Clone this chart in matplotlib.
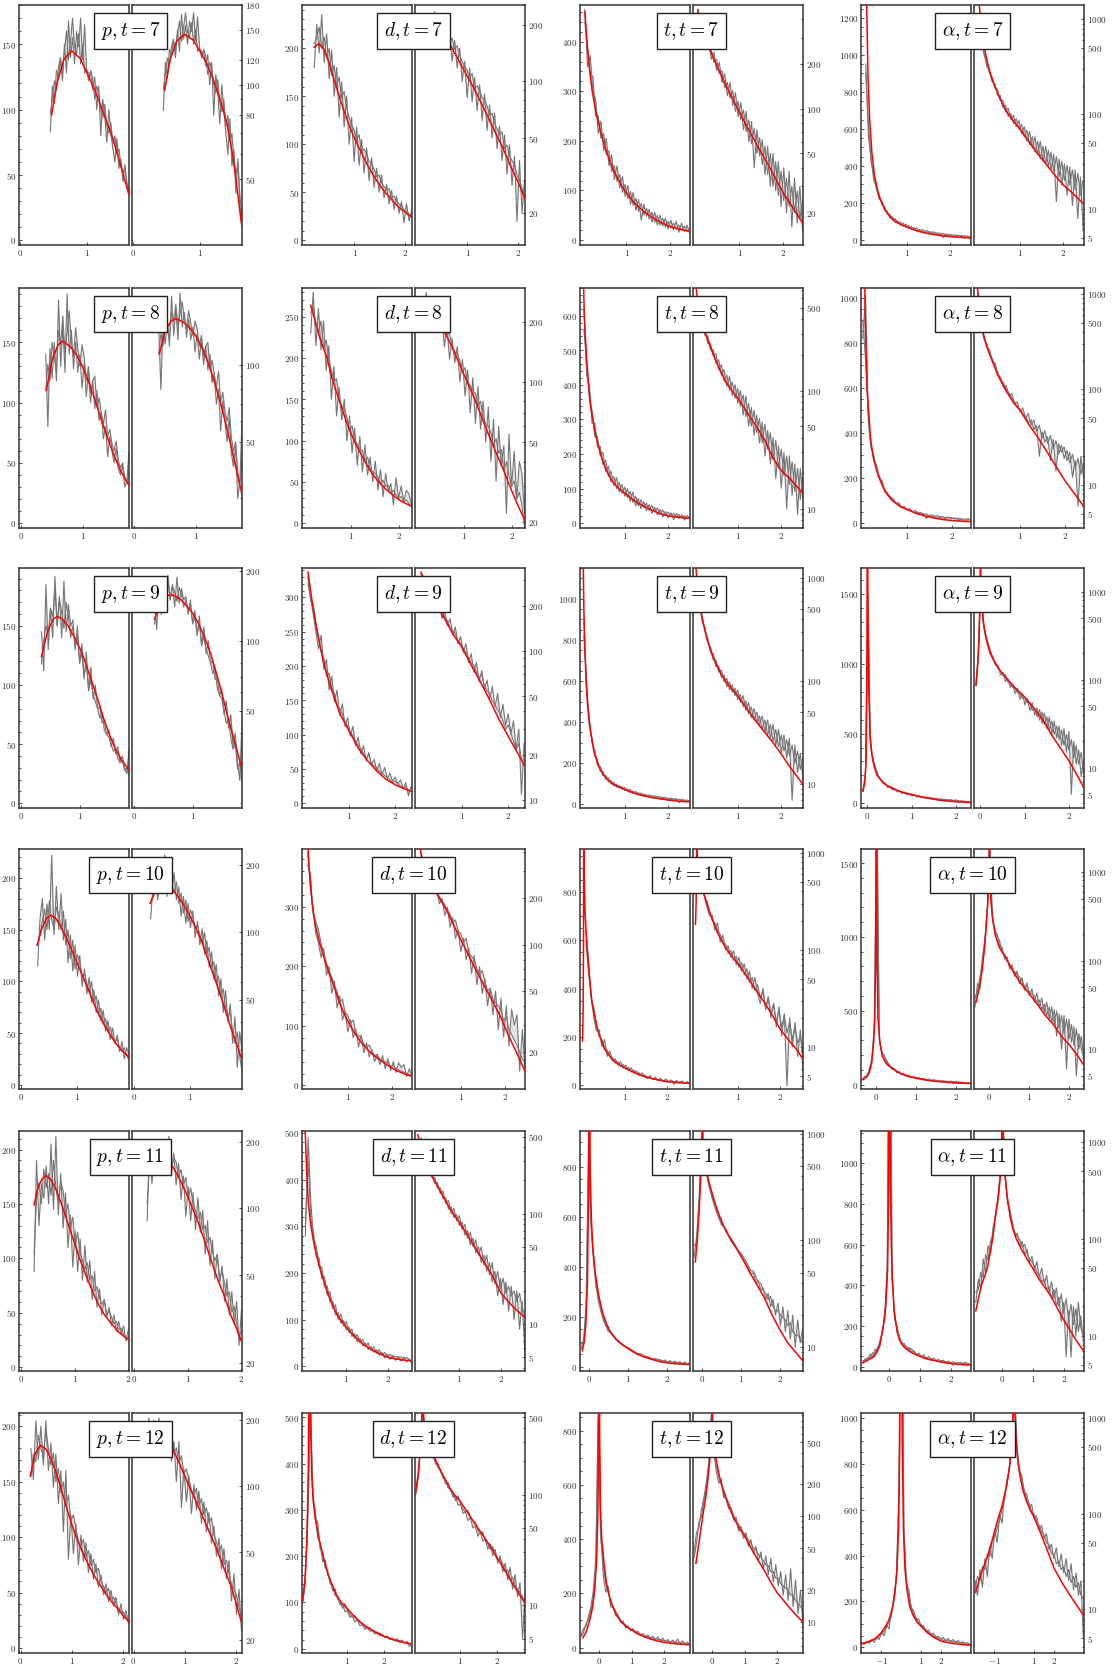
import numpy as np
import matplotlib
matplotlib.use("Agg")
import matplotlib.pyplot as plt
from matplotlib.ticker import AutoMinorLocator, FixedLocator, FixedFormatter, LogLocator, NullFormatter

plt.rcParams['mathtext.fontset'] = 'cm'
plt.rcParams['font.family'] = 'DejaVu Serif'

# ---------------- data: two noisy series (a, b), their x-span, and the fitted curve ----------------
# column p
p7_span = (0.45, 1.63)
p7_a = [83,118,105,130,125,138,122,150,128,168, 140,155,135,160,148,170,138,165,130,128, 127,115,125,100,118,80,108,95,75,100, 82,70,60,78,55,62,45,58,40,35]
p7_b = [97,108,122,115,132,140,128,145,160,138, 152,170,148,142,158,135,150,128,131,122, 130,124,108,118,112,100,94,104,88,82, 90,74,80,66,70,58,52,56,44,38]
p7_fx = [0.47,0.55,0.65,0.77,0.9,1.0,1.1,1.2,1.3,1.4,1.5,1.63]
p7_fy = [96,120,138,145,139,128,117,104,90,76,58,35]

p8_span = (0.4, 1.74)
p8_a = [140,80,145,120,150,118,185,130,165,125, 190,140,160,128,150,125,140,112,132,105, 125,100,118,95,110,85,92,70,80,55, 72,60,50,62,45,40,48,30,35,60]
p8_b = [110,132,118,150,138,126,160,148,172,140, 158,176,150,138,162,145,130,148,138,118, 130,108,118,122,96,104,92,82,94,72, 78,66,60,68,52,46,50,38,34,42]
p8_fx = [0.41,0.5,0.6,0.68,0.8,0.9,1.0,1.1,1.2,1.3,1.4,1.5,1.6,1.74]
p8_fy = [110,135,148,151,146,139,129,116,101,85,70,56,44,31]

p9_span = (0.35, 1.83)
p9_a = [145,112,185,130,165,140,192,150,175,140, 188,145,168,150,155,130,150,118,135,105, 128,95,115,88,100,80,82,68,70,58, 62,48,55,42,48,35,40,30,25,45]
p9_b = [118,138,150,142,165,158,180,150,172,162, 148,170,158,140,150,132,142,120,126,108, 118,96,104,92,86,80,72,76,62,58, 56,50,44,46,38,34,36,28,30,24]
p9_fx = [0.35,0.45,0.55,0.62,0.7,0.8,0.9,1.0,1.1,1.2,1.3,1.4,1.5,1.6,1.7,1.83]
p9_fy = [124,145,156,158,156,150,141,131,118,103,88,72,58,46,37,28]

p10_span = (0.3, 1.92)
p10_a = [115,160,180,140,175,150,222,145,192,150, 185,140,160,118,145,110,135,105,125,95, 112,88,104,80,92,70,82,62,72,52, 62,44,55,40,48,32,42,25,36,30]
p10_b = [135,145,158,170,150,178,160,150,172,165, 150,168,135,150,122,140,112,126,118,104, 108,98,90,100,80,86,70,74,60,64, 52,56,46,42,44,36,32,36,28,24]
p10_fx = [0.29,0.38,0.46,0.54,0.62,0.7,0.8,0.9,1.0,1.1,1.2,1.3,1.4,1.5,1.6,1.7,1.8,1.92]
p10_fy = [135,152,161,164,161,154,143,131,118,105,92,78,66,56,47,39,33,27]

p11_span = (0.25, 2.0)
p11_a = [88,190,130,168,155,185,150,205,145,212, 140,178,128,160,110,140,92,125,88,118, 80,112,78,98,62,88,55,72,48,62, 46,55,38,48,33,42,30,38,24,35]
p11_b = [105,155,170,150,182,165,178,158,190,165, 150,170,162,140,150,128,138,112,124,105, 98,90,96,80,84,70,74,64,58,62, 48,52,46,40,42,34,36,30,26,28]
p11_fx = [0.25,0.32,0.4,0.47,0.55,0.65,0.75,0.85,1.0,1.1,1.2,1.33,1.45,1.57,1.67,1.8,1.9,2.0]
p11_fy = [149,165,173,176,173,164,151,136,114,99,86,70,57,47,41,33,29,25]

p12_span = (0.2, 2.1)
p12_a = [180,152,205,170,200,165,205,160,185,145, 175,130,160,105,160,80,120,85,112,75, 102,78,95,68,85,62,76,55,66,48, 58,42,52,38,46,30,40,26,34,22]
p12_b = [155,175,168,192,180,172,198,180,165,176, 150,162,140,150,128,138,115,120,108,96, 92,98,82,88,74,80,68,72,60,56, 50,54,44,46,40,36,34,32,28,26]
p12_fx = [0.19,0.28,0.39,0.5,0.6,0.7,0.8,0.9,1.0,1.1,1.2,1.3,1.4,1.5,1.6,1.7,1.8,1.9,2.0,2.1]
p12_fy = [155,175,183,179,170,157,142,126,111,98,87,77,68,60,53,46,40,35,29,24]

# column d
d7_span = (0.21, 2.12)
d7_a = [180,225,195,235,185,215,168,198,150,180, 128,165,118,150,100,128,82,118,78,105, 70,96,62,86,55,75,50,68,44,58, 38,52,32,46,28,40,18,38,20,30]
d7_b = [205,210,222,200,212,190,200,172,182,160, 170,148,155,138,128,120,115,104,110,92, 95,90,82,80,74,66,68,60,56,52, 54,44,46,40,38,36,32,30,27,24]
d7_fx = [0.21,0.3,0.4,0.5,0.6,0.7,0.8,0.9,1.0,1.1,1.2,1.3,1.4,1.5,1.6,1.7,1.8,1.9,2.0,2.12]
d7_fy = [201,205,199,185,167,150,134,119,106,95,84,74,65,57,50,44,38,33,29,24]

d8_span = (0.16, 2.25)
d8_a = [230,280,215,260,210,245,185,215,150,190, 130,165,125,150,100,130,85,115,70,105, 62,95,58,80,50,75,40,65,32,60, 38,48,22,55,30,45,26,40,35,22]
d8_b = [255,262,240,232,245,212,222,198,185,172, 175,150,142,138,128,112,118,100,96,90, 88,76,80,66,62,60,56,48,52,44, 46,36,40,34,30,32,26,28,24,19]
d8_fx = [0.16,0.25,0.35,0.5,0.6,0.7,0.8,0.9,1.0,1.1,1.2,1.3,1.4,1.5,1.6,1.7,1.8,1.9,2.0,2.1,2.25]
d8_fy = [264,246,224,200,176,158,140,123,108,95,84,73,63,55,48,42,37,32,28,24.5,20.5]

d9_span = (0.1, 2.35)
d9_a = [320,300,275,250,225,245,195,210,165,185, 148,165,128,145,112,125,98,112,84,96, 72,84,62,74,56,64,48,58,42,52, 36,44,32,38,28,34,22,30,11,24]
d9_b = [330,295,290,262,244,220,212,185,190,168, 160,142,138,130,118,112,104,98,90,84, 80,72,66,70,58,54,52,46,44,40, 38,34,30,32,28,25,22,24,19,17]
d9_fx = [0.1,0.2,0.3,0.44,0.6,0.8,1.0,1.2,1.4,1.6,1.8,2.0,2.2,2.35]
d9_fy = [337,290,250,205,168,130,105,80,62,47,35,27,21,17.3]

d10_span = (0.08, 2.46)
d10_a = [390,330,300,255,240,215,230,185,200,155, 175,130,150,110,125,90,110,80,95,65, 85,55,72,48,60,40,52,35,50,28, 45,25,40,22,38,30,35,15,28,16]
d10_b = [370,355,288,275,262,238,222,205,192,182, 168,158,140,145,122,118,104,110,88,84, 80,70,64,68,58,50,52,44,42,40, 38,32,34,28,26,24,22,20,18,17]
d10_fx = [0.07,0.12,0.18,0.25,0.35,0.45,0.55,0.67,0.8,0.9,1.0,1.15,1.3,1.5,1.7,1.9,2.1,2.3,2.46]
d10_fy = [420,360,306,270,240,215,192,168,140,122,107,88,72,56,44,34,25,19,15]

d11_span = (0.03, 2.57)
d11_a = [280,490,350,272,258,215,212,170,172,138, 140,110,115,92,98,78,84,64,70,52, 60,44,50,36,42,30,36,24,30,18, 26,15,24,13,22,11,20,9,16,5]
d11_b = [300,440,315,285,236,232,188,192,152,160, 124,132,100,112,86,96,72,80,60,68, 50,58,42,50,34,42,28,36,23,30, 21,26,19,22,18,20,16,19,14,12]
d11_fx = [0.02,0.06,0.1,0.16,0.25,0.35,0.45,0.55,0.68,0.8,1.0,1.2,1.4,1.6,1.8,2.0,2.2,2.4,2.57]
d11_fy = [520,420,350,302,255,218,188,160,130,108,84,64,48,36,27,19,15.5,13,11.5]

d12_span = (-0.18, 2.75)
d12_a = [100,140,300,560,350,280,275,215,210,175, 170,140,138,115,112,95,98,80,82,68, 70,58,62,50,52,42,46,38,40,32, 36,28,32,24,28,20,24,17,22,14, 19,12,16,5,12]
d12_b = [110,150,270,520,330,300,240,230,188,192, 160,152,125,130,108,104,88,98,84,74, 70,72,62,58,56,48,44,46,38,36, 32,34,28,26,26,24,20,21,17,18, 15,14,13,12,10]
d12_fx = [-0.18,-0.12,-0.07,-0.03,0.0,0.03,0.06,0.1,0.16,0.25,0.35,0.5,0.7,0.85,1.0,1.2,1.4,1.6,1.8,2.0,2.2,2.4,2.6,2.75]
d12_fy = [105,150,230,380,800,500,380,320,280,239,205,160,120,100,88,70,55,44,35,27,21,16,12.5,10.5]

# column t
t7_span = (0.05, 2.44)
t7_a = [465,350,372,300,285,215,240,180,205,150, 172,122,150,105,128,88,110,72,96,60, 82,40,72,48,62,36,56,30,50,28, 44,22,40,20,38,16,34,17,30,15]
t7_b = [440,385,335,330,250,250,205,215,172,180, 138,150,118,132,96,112,84,98,70,84, 58,74,50,64,42,56,36,50,30,44, 26,38,24,34,22,30,20,28,18,24]
t7_fx = [0.05,0.1,0.15,0.21,0.3,0.4,0.5,0.6,0.7,0.8,0.9,1.0,1.2,1.4,1.6,1.8,2.0,2.2,2.44]
t7_fy = [460,400,350,305,260,222,190,164,142,124,108,95,73,57,45,35,27,22,17]

t8_span = (0.04, 2.5)
t8_a = [620,430,395,290,290,220,222,170,182,135, 150,108,132,90,112,78,100,62,90,50, 72,42,62,36,54,28,46,24,40,18, 34,15,30,10,28,13,24,9,22,12]
t8_b = [560,470,360,325,250,250,195,205,150,165, 120,135,100,118,86,104,74,92,60,78, 50,68,44,58,36,52,32,44,26,38, 22,32,19,28,16,25,14,22,12,19]
t8_fx = [0.02,0.05,0.1,0.15,0.2,0.27,0.35,0.45,0.55,0.7,0.85,1.0,1.2,1.4,1.6,1.8,2.0,2.2,2.5]
t8_fy = [750,600,480,398,335,283,235,190,155,120,100,85,66,51,39,27,21,18,13.5]

t9_span = (0.05, 2.52)
t9_a = [900,560,420,300,262,190,185,138,140,108, 115,88,98,78,85,66,74,56,64,48, 56,42,50,38,46,32,42,28,38,24, 34,20,30,18,28,7,24,13,20,11]
t9_b = [820,600,380,325,235,215,160,160,122,128, 98,106,82,92,72,82,62,72,52,62, 44,54,40,46,34,42,30,38,26,34, 23,30,21,27,19,24,16,21,14,18]
t9_fx = [0.03,0.05,0.07,0.1,0.14,0.2,0.28,0.39,0.5,0.6,0.73,0.85,1.0,1.2,1.4,1.6,1.8,2.0,2.2,2.52]
t9_fy = [1250,950,780,605,470,360,260,186,145,120,98,85,72,55,42,33,26,20,15,10]

t10_span = (0.05, 2.56)
t10_a = [600,470,370,280,225,230,160,190,120,142, 100,110,84,98,70,84,60,72,50,60, 40,52,36,28,40,24,32,20,28,16, 26,13,22,4,20,10,18,8,15,6]
t10_b = [640,520,360,320,255,200,190,158,145,120, 115,92,98,78,86,66,74,55,64,46, 52,38,44,32,38,26,33,22,28,18, 24,16,21,14,18,12,16,11,13,9]
t10_fx = [-0.03,-0.015,-0.005,0.0,0.01,0.03,0.07,0.12,0.2,0.33,0.5,0.68,0.85,1.0,1.2,1.4,1.6,1.8,2.0,2.2,2.4,2.56]
t10_fy = [183,300,600,1500,900,720,600,480,340,231,150,108,85,72,54,40,30,22,15.5,12,9.5,7.5]

t11_span = (-0.2, 2.58)
t11_a = [70,110,250,900,580,420,330,260,220,185, 165,140,135,120,110,98,92,85,78,70, 66,60,56,48,50,40,42,34,36,28, 32,24,28,20,26,16,24,14,22,12, 20,10,18,11,15]
t11_b = [90,96,205,820,560,450,320,280,230,200, 160,162,132,126,112,104,96,88,80,76, 70,64,58,52,52,46,40,40,34,32, 28,30,24,22,22,20,19,18,16,17, 14,13,13,12,11]
t11_fx = [-0.17,-0.12,-0.08,-0.04,-0.01,0.01,0.03,0.06,0.1,0.16,0.25,0.35,0.5,0.7,0.85,1.0,1.2,1.4,1.6,1.8,2.0,2.2,2.4,2.58]
t11_fy = [63,100,170,330,700,1500,800,600,470,376,285,215,150,108,88,72,52,39,29,20,14.5,11,9,7.5]

t12_span = (-0.56, 2.8)
t12_a = [45,70,78,115,150,210,330,900,430,265, 205,225,150,148,118,120,92,98,72,80, 62,70,52,60,44,52,38,46,32,42, 28,40,24,35,22,30,18,28,16,32, 14,25,12,20,9]
t12_b = [40,55,88,100,140,180,300,850,400,300, 240,200,178,150,135,118,102,90,84,76, 70,64,60,56,50,48,44,41,38,35, 34,30,30,26,26,23,22,21,20,18, 18,16,15,14,13]
t12_fx = [-0.5,-0.4,-0.29,-0.2,-0.135,-0.08,-0.04,-0.015,0.0,0.015,0.04,0.08,0.16,0.23,0.35,0.54,0.7,0.85,1.0,1.2,1.4,1.6,1.8,2.0,2.2,2.4,2.6,2.8]
t12_fy = [36,58,100,150,217,320,480,800,1300,800,520,400,300,235,170,118,92,76,65,50,39,31,24,19,16,13.5,11.5,10]

# column alpha
al7_span = (0.05, 2.46)
al7_a = [950,560,440,320,285,220,210,160,158,118, 125,95,102,80,90,70,78,58,68,48, 58,40,52,34,46,30,42,26,38,12, 34,18,30,14,28,11,26,8,22,6]
al7_b = [900,620,420,360,270,248,190,182,140,140, 108,116,88,98,74,86,62,74,52,66, 44,58,38,52,32,46,28,40,25,36, 22,32,20,29,18,26,16,24,14,20]
al7_fx = [0.0,0.02,0.04,0.07,0.1,0.14,0.19,0.25,0.35,0.5,0.68,0.85,1.0,1.2,1.4,1.6,1.8,2.0,2.2,2.46]
al7_fy = [2500,2000,1600,1300,900,650,474,350,240,160,108,85,70,52,39,30,23,18,15,11.5]

al8_span = (0.005, 2.41)
al8_a = [820,1010,450,330,300,235,210,170,150,125, 118,100,92,82,75,65,62,55,52,45, 48,38,42,20,36,28,32,18,30,14, 27,22,25,18,22,12,18,6,20,12]
al8_b = [900,720,480,350,276,258,196,188,140,134, 106,110,86,90,70,74,58,64,50,56, 42,48,36,42,31,37,27,33,24,29, 21,26,19,23,17,21,15,19,13,17]
al8_fx = [0.0,0.02,0.04,0.06,0.1,0.18,0.25,0.35,0.5,0.66,0.85,1.0,1.2,1.4,1.6,1.8,2.0,2.2,2.41]
al8_fy = [2000,1500,1200,900,600,370,280,210,140,100,72,60,42,31,22,15.5,11,8.2,6]

al9_span = (-0.1, 2.33)
al9_a = [90,220,1500,420,330,250,215,170,160,135, 125,112,115,95,92,82,80,72,70,62, 60,55,56,45,48,38,46,32,42,28, 38,24,34,22,30,18,28,15,26,5, 20,11,16,8,12]
al9_b = [85,200,1400,450,300,265,198,182,146,146, 114,122,96,104,82,90,70,80,60,70, 52,62,45,55,40,48,35,43,31,38, 27,34,24,30,21,27,18,24,16,21, 13,18,11,15,9]
al9_fx = [-0.1,-0.06,-0.03,-0.01,0.0,0.01,0.03,0.06,0.1,0.16,0.22,0.35,0.5,0.7,0.85,1.0,1.2,1.4,1.6,1.8,2.0,2.2,2.33]
al9_fy = [88,150,300,900,3000,1500,800,493,350,255,200,150,118,90,75,64,48,36,24,17,12,8,6]

al10_span = (-0.36, 2.36)
al10_a = [30,55,48,110,160,420,2000,300,230,185, 165,125,118,100,92,80,75,70,65,58, 52,50,45,42,40,34,36,28,32,24, 30,20,28,14,25,10,24,6,22,12, 18,5,15,10,8]
al10_b = [38,45,65,95,180,380,1800,320,212,198, 145,140,104,110,80,90,66,76,55,64, 46,56,40,48,34,43,30,38,26,34, 22,30,19,27,17,24,15,22,13,19, 11,17,10,14,8]
al10_fx = [-0.33,-0.25,-0.18,-0.12,-0.07,-0.04,-0.02,-0.005,0.0,0.005,0.02,0.04,0.09,0.15,0.25,0.4,0.56,0.75,1.0,1.2,1.4,1.6,1.8,2.0,2.2,2.36]
al10_fy = [34,50,78,140,276,450,800,1600,3000,1600,800,450,276,190,140,108,80,58,42,32,24,19,14,11.2,8.5,6.6]

al11_span = (-0.87, 2.64)
al11_a = [22,38,30,62,45,85,70,130,160,260, 500,2400,450,230,200,135,118,105,98,82, 88,70,62,58,52,45,42,36,38,30, 32,24,30,20,25,14,22,6,18,6, 20,10,22,12,10]
al11_b = [28,30,45,40,68,60,95,110,180,230, 450,2200,420,260,180,150,108,114,84,94, 68,78,57,66,48,58,40,50,34,42, 28,36,24,31,20,27,17,24,15,21, 13,19,11,16,9]
al11_fx = [-0.87,-0.7,-0.49,-0.32,-0.2,-0.12,-0.06,-0.03,-0.01,0.0,0.01,0.03,0.06,0.09,0.15,0.25,0.33,0.45,0.6,0.8,1.0,1.2,1.4,1.6,1.8,2.0,2.2,2.4,2.64]
al11_fy = [18,32,50,100,200,300,480,800,1500,3000,1500,900,600,450,280,170,130,100,80,62,49,38,31,25,19,14.5,11.5,9,7]

al12_span = (-1.95, 3.47)
al12_a = [20,14,26,17,34,22,45,34,68,50, 96,80,165,200,320,650,2200,520,280,250, 170,160,118,125,90,95,68,76,55,62, 42,48,34,44,28,38,24,34,20,30, 16,24,14,20,5]
al12_b = [16,22,20,28,26,38,36,52,58,72, 86,112,140,230,300,700,2000,480,300,215, 178,140,128,104,100,84,76,64,60,50, 48,38,38,30,32,26,28,22,26,19, 22,17,19,14,13]
al12_fx = [-1.93,-1.6,-1.3,-1.0,-0.8,-0.6,-0.43,-0.3,-0.2,-0.12,-0.06,-0.02,0.0,0.02,0.06,0.12,0.2,0.3,0.43,0.6,0.8,1.0,1.3,1.6,2.0,2.4,2.8,3.2,3.47]
al12_fy = [15,25,37,62,88,120,170,240,340,520,900,1800,3000,1800,900,520,340,250,180,140,110,92,65,45,27,19,14,10.5,8.7]

# ---------------- panels: (symbol, t, data) ----------------
columns = [
    (r'p', [(7, p7_span, p7_a, p7_b, p7_fx, p7_fy), (8, p8_span, p8_a, p8_b, p8_fx, p8_fy),
            (9, p9_span, p9_a, p9_b, p9_fx, p9_fy), (10, p10_span, p10_a, p10_b, p10_fx, p10_fy),
            (11, p11_span, p11_a, p11_b, p11_fx, p11_fy), (12, p12_span, p12_a, p12_b, p12_fx, p12_fy)]),
    (r'd', [(7, d7_span, d7_a, d7_b, d7_fx, d7_fy), (8, d8_span, d8_a, d8_b, d8_fx, d8_fy),
            (9, d9_span, d9_a, d9_b, d9_fx, d9_fy), (10, d10_span, d10_a, d10_b, d10_fx, d10_fy),
            (11, d11_span, d11_a, d11_b, d11_fx, d11_fy), (12, d12_span, d12_a, d12_b, d12_fx, d12_fy)]),
    (r't', [(7, t7_span, t7_a, t7_b, t7_fx, t7_fy), (8, t8_span, t8_a, t8_b, t8_fx, t8_fy),
            (9, t9_span, t9_a, t9_b, t9_fx, t9_fy), (10, t10_span, t10_a, t10_b, t10_fx, t10_fy),
            (11, t11_span, t11_a, t11_b, t11_fx, t11_fy), (12, t12_span, t12_a, t12_b, t12_fx, t12_fy)]),
    (r'\alpha', [(7, al7_span, al7_a, al7_b, al7_fx, al7_fy), (8, al8_span, al8_a, al8_b, al8_fx, al8_fy),
                 (9, al9_span, al9_a, al9_b, al9_fx, al9_fy), (10, al10_span, al10_a, al10_b, al10_fx, al10_fy),
                 (11, al11_span, al11_a, al11_b, al11_fx, al11_fy), (12, al12_span, al12_a, al12_b, al12_fx, al12_fy)]),
]

# axis settings per column/row: xlim, xticks, linear ylim, linear yticks, log ylim, log yticks
axis_cfg = [
    [((-0.02, 1.63), [0, 1], (-3.5, 180), [0, 50, 100, 150], (30.8, 180), [50, 80, 100, 120, 150, 180]),
     ((-0.03, 1.74), [0, 1], (-4, 195), [0, 50, 100, 150], (23, 199), [50, 100]),
     ((-0.03, 1.83), [0, 1], (-4, 199), [0, 50, 100, 150], (19, 206), [50, 100, 200]),
     ((-0.03, 1.92), [0, 1], (-4, 228), [0, 50, 100, 150, 200], (20, 236), [50, 100, 200]),
     ((-0.03, 2.01), [0, 1, 2], (-3.5, 217), [0, 50, 100, 150, 200], (18.4, 224), [20, 50, 100, 200]),
     ((-0.03, 2.11), [0, 1, 2], (-4.5, 212), [0, 50, 100, 150, 200], (17.4, 216), [20, 50, 100, 200])],
    [((-0.03, 2.13), [1, 2], (-5, 245), [0, 50, 100, 150, 200], (13.5, 255), [20, 50, 100, 200]),
     ((-0.02, 2.26), [1, 2], (-6, 285), [0, 50, 100, 150, 200, 250], (18.6, 295), [20, 50, 100, 200]),
     ((-0.03, 2.37), [1, 2], (-7, 343), [0, 50, 100, 150, 200, 250, 300], (8.9, 360), [10, 20, 50, 100, 200]),
     ((-0.05, 2.46), [1, 2], (-6, 397), [0, 100, 200, 300], (11.5, 420), [20, 50, 100, 200]),
     ((-0.05, 2.57), [1, 2], (-10, 504), [0, 100, 200, 300, 400, 500], (3.75, 561), [5, 10, 50, 100, 500]),
     ((-0.2, 2.75), [1, 2], (-9, 509), [0, 100, 200, 300, 400, 500], (3.7, 547), [5, 10, 50, 100, 500])],
    [((-0.06, 2.45), [1, 2], (-10, 474), [0, 100, 200, 300, 400], (12.1, 498), [20, 50, 100, 200]),
     ((-0.05, 2.5), [1, 2], (-14, 680), [0, 100, 200, 300, 400, 500, 600], (6.9, 734), [10, 50, 100, 500]),
     ((-0.04, 2.52), [1, 2], (-19, 1151), [0, 200, 400, 600, 800, 1000], (5.9, 1240), [10, 50, 100, 500, 1000]),
     ((-0.09, 2.56), [1, 2], (-15, 977), [0, 200, 400, 600, 800], (3.7, 1092), [5, 10, 50, 100, 500, 1000]),
     ((-0.23, 2.59), [0, 1, 2], (-18, 943), [0, 200, 400, 600, 800], (6.0, 1057), [10, 50, 100, 500, 1000]),
     ((-0.59, 2.8), [0, 1, 2], (-20, 865), [0, 200, 400, 600, 800], (5.1, 946), [10, 20, 50, 100, 200, 500])],
    [((-0.06, 2.48), [1, 2], (-27, 1269), [0, 200, 400, 600, 800, 1000, 1200], (4.2, 1417), [5, 10, 50, 100, 500, 1000]),
     ((-0.035, 2.42), [1, 2], (-22, 1043), [0, 200, 400, 600, 800, 1000], (3.55, 1148), [5, 10, 50, 100, 500, 1000]),
     ((-0.145, 2.34), [0, 1, 2], (-33, 1685), [0, 500, 1000, 1500], (3.5, 1872), [5, 10, 50, 100, 500, 1000]),
     ((-0.385, 2.365), [0, 1, 2], (-30, 1596), [0, 500, 1000, 1500], (3.56, 1809), [5, 10, 50, 100, 500, 1000]),
     ((-0.93, 2.665), [0, 1, 2], (-22, 1159), [0, 200, 400, 600, 800, 1000], (4.3, 1302), [5, 10, 50, 100, 500, 1000]),
     ((-2.0, 3.5), [-1, 1, 2], (-25, 1022), [0, 200, 400, 600, 800, 1000], (3.5, 1130), [5, 10, 50, 100, 500, 1000])],
]

# ---------------- layout (pixels) ----------------
W, H = 1112, 1670
col_x = [19, 302, 580, 861]
row_top = [5, 288, 568, 849, 1131, 1413]
ax_w, ax_h, gap = 110, 240, 3

GRAY = '#767676'
FILL = '#e4e4e4'
SPINE = '#333333'


def fmt(vals):
    return [f'${v:g}$' for v in vals]


def style(ax):
    for s in ax.spines.values():
        s.set_color(SPINE)
        s.set_linewidth(1.1)
    ax.tick_params(which='both', direction='in', labelsize=6.5, colors=SPINE, width=0.6, pad=2)
    ax.tick_params(which='major', length=2.5)
    ax.tick_params(which='minor', length=1.4)


def draw(ax, span, a, b, fx, fy):
    x = np.linspace(span[0], span[1], len(a))
    ax.fill_between(x, a, b, color=FILL, lw=0, zorder=1)
    ax.plot(x, a, color=GRAY, lw=0.8, zorder=2)
    ax.plot(x, b, color=GRAY, lw=0.8, zorder=2)
    ax.plot(fx, fy, color='red', lw=1.1, zorder=3)


fig = plt.figure(figsize=(W / 100, H / 100), dpi=100)

for c, (sym, rows) in enumerate(columns):
    for r, (t, span, a, b, fx, fy) in enumerate(rows):
        xlim, xt, lyl, lyt, gyl, gyt = axis_cfg[c][r]
        x0 = col_x[c]
        y0 = row_top[r]
        bottom = 1 - (y0 + ax_h) / H

        # linear panel
        ax = fig.add_axes([x0 / W, bottom, ax_w / W, ax_h / H])
        draw(ax, span, a, b, fx, fy)
        ax.set_xlim(*xlim)
        ax.set_ylim(*lyl)
        ax.set_xticks(xt)
        ax.set_xticklabels(fmt(xt))
        ax.set_yticks(lyt)
        ax.set_yticklabels(fmt(lyt))
        ax.yaxis.set_minor_locator(AutoMinorLocator())
        ax.yaxis.set_ticks_position('left')
        ax.xaxis.set_ticks_position('bottom')
        style(ax)

        # log panel
        ax2 = fig.add_axes([(x0 + ax_w + gap) / W, bottom, ax_w / W, ax_h / H])
        draw(ax2, span, a, b, fx, fy)
        ax2.set_yscale('log')
        ax2.set_xlim(*xlim)
        ax2.set_ylim(*gyl)
        ax2.set_xticks(xt)
        ax2.set_xticklabels(fmt(xt))
        ax2.yaxis.set_major_locator(FixedLocator(gyt))
        ax2.yaxis.set_major_formatter(FixedFormatter(fmt(gyt)))
        ax2.yaxis.set_minor_locator(LogLocator(base=10, subs=np.arange(2, 10)))
        ax2.yaxis.set_minor_formatter(NullFormatter())
        ax2.yaxis.tick_right()
        ax2.xaxis.set_ticks_position('bottom')
        style(ax2)

        # label box spanning both panels
        fig.text((x0 + ax_w + gap / 2) / W, 1 - (y0 + 26) / H, rf'${sym}, t = {t}$',
                 ha='center', va='center', fontsize=14, zorder=10,
                 bbox=dict(boxstyle='square,pad=0.35', fc='white', ec='#222222', lw=1.0))

fig.savefig('out.png', dpi=100)
